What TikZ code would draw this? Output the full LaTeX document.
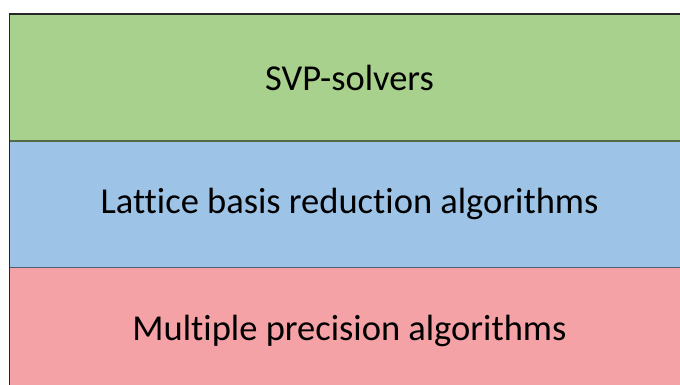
\documentclass[tikz,border=0pt]{standalone}
\usepackage{fontspec}
\setmainfont[Ligatures={NoCommon}]{Carlito}
\usetikzlibrary{positioning}

\definecolor{svpgreen}{HTML}{A9D18E}
\definecolor{lbrblue}{HTML}{9DC3E6}
\definecolor{mpared}{HTML}{F4A2A6}

\begin{document}
\begin{tikzpicture}
  [x=1pt,y=-1pt,every node/.style={rectangle,inner sep=0pt,minimum width=680pt,
   minimum height=126.5pt,font=\fontsize{36.5}{44}\selectfont}]

  \useasboundingbox (0,0) rectangle (680,385);
  \clip (0,0) rectangle (680,385);

  \node[fill=svpgreen] (svp) at (349.5,77.5) {SVP-solvers};
  \node[fill=lbrblue,below=0pt of svp] (lbr) {Lattice basis reduction algorithms};
  \node[fill=mpared,below=0pt of lbr] (mpa) {Multiple precision algorithms};

  % dividers between the layers
  \draw[line width=1.2pt,svpgreen!50!black] (svp.south west) -- (svp.south east);
  \draw[line width=1.2pt,lbrblue!50!black] (lbr.south west) -- (lbr.south east);

  % outer frame
  \draw[line width=1.6pt,black!85] (mpa.south west) -- (svp.north west) -- (svp.north east);

\end{tikzpicture}
\end{document}
